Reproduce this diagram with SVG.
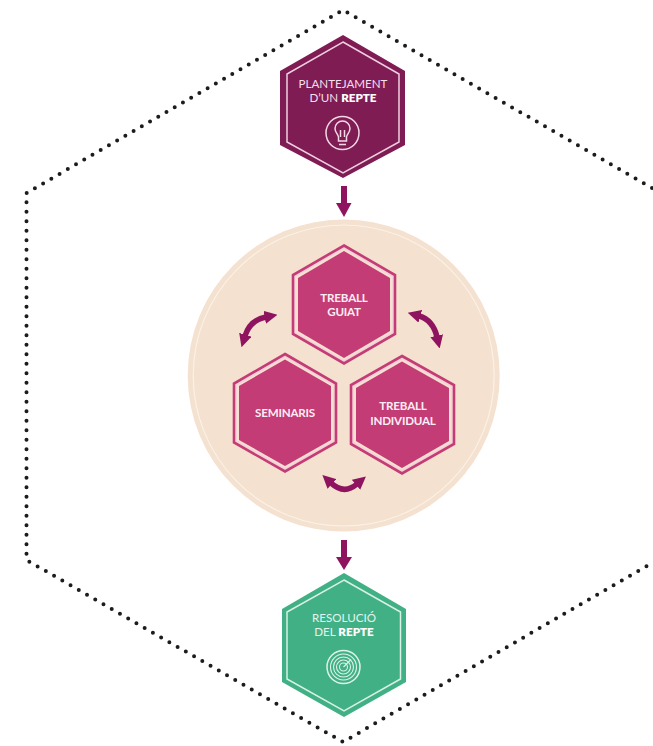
<svg xmlns="http://www.w3.org/2000/svg" width="653" height="746" viewBox="0 0 653 746">
<style>
text{font-family:"Lato","Liberation Sans",sans-serif;text-anchor:middle}
.t1{font-size:11.6px;fill:#f7dfeb;font-weight:400}
.t2{font-size:11.6px;fill:#e3f5ee;font-weight:400}
.b{font-weight:800;fill:#fff}
.m{font-size:11.600px;font-weight:700;fill:#fdeef4;letter-spacing:-.2px}
.mid{fill:#c43c75;stroke:none}
.midb{fill:none;stroke:#f6cfdc;stroke-width:1.6}
.midc{fill:none;stroke:#c43c75;stroke-width:2.6}
.in1{fill:none;stroke:#f0cfe0;stroke-width:1.5}
.in2{fill:none;stroke:#d8f0e6;stroke-width:1.5}
.conn{fill:none;stroke:#8f145f}
.ic1{fill:none;stroke:#f3d9e6;stroke-width:1.5}
.ic2{fill:none;stroke:#def3ea;stroke-width:1.1}
</style>
<defs>
<marker id="h" viewBox="0 0 10 10" refX="1" refY="5" markerUnits="userSpaceOnUse" markerWidth="13" markerHeight="13" orient="auto-start-reverse"><path d="M0,0L10,5L0,10Z" fill="#8f145f"/></marker>
</defs>
<rect width="653" height="746" fill="#fff"/>
<path id="boundary" d="M652,188L343,10L26.500,193V560L343,742L652,563" fill="none" stroke="#1c1c1c" stroke-width="4" stroke-linecap="round" stroke-dasharray="0 9.500"/>
<g id="circle">
<circle cx="343.700" cy="375.500" r="156" fill="#f4e1cf"/>
<circle cx="343.700" cy="375.500" r="150.500" fill="none" stroke="#fbf1e6" stroke-width="1.200"/>
</g>
<g id="connectors">
<path class="conn" stroke-width="6" d="M344,186V204"/>
<path d="M336,203H351.500L344,217Z" fill="#8f145f"/>
<path class="conn" stroke-width="6" d="M344,540V558"/>
<path d="M336,557H352L344,570Z" fill="#8f145f"/>
<path class="conn" stroke-width="5.500" d="M266,317Q250,320 245,336" marker-start="url(#h)" marker-end="url(#h)"/>
<path class="conn" stroke-width="5.500" d="M419,316Q433,320 437,337" marker-start="url(#h)" marker-end="url(#h)"/>
<path class="conn" stroke-width="5.500" d="M331,483Q344,495 357,484" marker-start="url(#h)" marker-end="url(#h)"/>
</g>
<g id="plantejament">
<path d="M343,35L405,71V145L343,178L280,145V71Z" fill="#7f1c54"/>
<path class="in1" d="M343,42L399,74V142L343,173L287,142V74Z"/>
<text class="t1" x="343" y="88">PLANTEJAMENT</text>
<text class="t1" x="343" y="102">D’UN <tspan class="b">REPTE</tspan></text>
<circle class="ic1" cx="342.500" cy="133" r="16.500"/>
<path class="ic1" d="M338.500,141V137C338,134 335,132.500 335,128.500A7.500,7.500 0 0 1 350,128.500C350,132.500 347,134 346.500,137V141ZM339,144.500H346M340.500,137V130M344.500,137V130"/>
</g>
<g id="treball-guiat">
<path class="mid" d="M344,251L390,278V331L344,358L298,331V278Z"/>
<path class="midb" d="M344,248L393,276.500V332.500L344,361L294.500,332.500V276.500Z"/>
<path class="midc" d="M344,245.500L395,275V334L344,363.500L293,334V275Z"/>
<text class="m" x="344" y="302">TREBALL</text>
<text class="m" x="344" y="316">GUIAT</text>
</g>
<g id="seminaris">
<path class="mid" d="M285,359.500L331,386V440L285,466L239,440V386Z"/>
<path class="midb" d="M285,356.500L334,385V441L285,469L236,441V385Z"/>
<path class="midc" d="M285,354L336,383.500V442.500L285,471.500L234,442.500V383.500Z"/>
<text class="m" x="285" y="417">SEMINARIS</text>
</g>
<g id="treball-individual">
<path class="mid" d="M402,361.500L449,388V441L402,468L356,441V388Z"/>
<path class="midb" d="M402,358.500L452,386.500V442.500L402,471L353,442.500V386.500Z"/>
<path class="midc" d="M402,356L454,385V444L402,473.500L351,444V385Z"/>
<text class="m" x="403" y="410">TREBALL</text>
<text class="m" x="403" y="425">INDIVIDUAL</text>
</g>
<g id="resolucio">
<path d="M344,573L406,609V682L344,717L282,682V609Z" fill="#41b085"/>
<path class="in2" d="M344,580L400.500,612V679L344,711L287,679V612Z"/>
<text class="t2" x="344" y="622">RESOLUCIÓ</text>
<text class="t2" x="344" y="636">DEL <tspan class="b">REPTE</tspan></text>
<circle class="ic1" style="stroke:#def3ea" cx="343.500" cy="667" r="16.500"/>
<circle class="ic2" cx="343.500" cy="667" r="13"/>
<circle class="ic2" cx="343.500" cy="667" r="10"/>
<circle class="ic2" cx="343.500" cy="667" r="7"/>
<circle class="ic2" cx="343.500" cy="667" r="4"/>
<path class="ic2" d="M343.500,667L351,659.500"/>
</g>
</svg>
